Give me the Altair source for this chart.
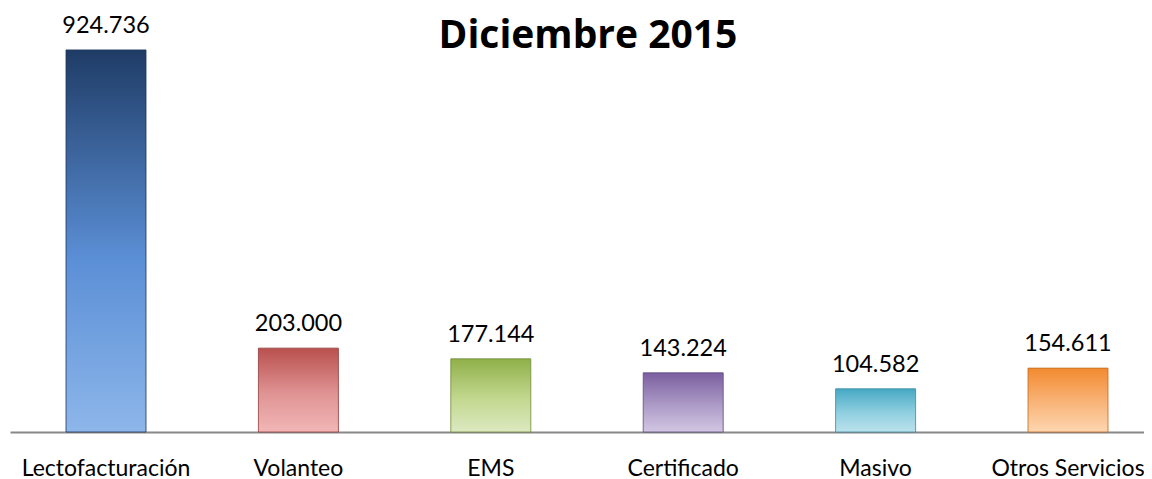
import altair as alt
import pandas as pd

categories = ["Lectofacturación", "Volanteo", "EMS", "Certificado", "Masivo", "Otros Servicios"]
values = [924.736, 203.000, 177.144, 143.224, 104.582, 154.611]
labels = ["924.736", "203.000", "177.144", "143.224", "104.582", "154.611"]

top_colors = ["#1f3c66", "#b9504e", "#8fb049", "#7a5f9e", "#46a8c4", "#f28a30"]
mid_colors = ["#5b8fd6", "#e09494", "#c3d88f", "#ad9bc8", "#8fcfe0", "#f9b57a"]
bottom_colors = ["#8db6ea", "#f2b6b6", "#dde9c2", "#d2c6e2", "#bce2ec", "#fdd6b0"]
edge_colors = ["#1c355a", "#8e3c3a", "#6f8a38", "#5e4a7a", "#3a8aa0", "#c06a20"]

df = pd.DataFrame({"cat": categories, "val": values, "lab": labels})

FONT = "Lato"
x_enc = alt.X("cat:N", sort=categories, title=None,
              scale=alt.Scale(paddingInner=0.5, paddingOuter=0.197, align=0.632),
              axis=alt.Axis(labelAngle=0, ticks=False, domainColor="#888888", domainWidth=2,
                            labelFont=FONT, labelFontSize=23, labelColor="#000000",
                            labelBaseline="alphabetic", labelPadding=43, grid=False))
y_scale = alt.Scale(domain=[0, 1002])
y_enc = alt.Y("val:Q", scale=y_scale, axis=None)

base = alt.Chart(df)
layers = []
for c, t, m, b, e in zip(categories, top_colors, mid_colors, bottom_colors, edge_colors):
    grad = alt.LinearGradient(
        gradient="linear",
        stops=[alt.GradientStop(color=t, offset=0),
               alt.GradientStop(color=m, offset=0.55),
               alt.GradientStop(color=b, offset=1)],
        x1=0, x2=0, y1=0, y2=1,
    )
    layers.append(
        base.transform_filter(alt.datum.cat == c)
        .mark_bar(size=80, color=grad, stroke=e, strokeWidth=1, strokeOpacity=0.8)
        .encode(x=x_enc, y=y_enc)
    )

text = base.mark_text(font=FONT, fontSize=23.5, color="#000000", baseline="alphabetic", dy=-17).encode(
    x=x_enc, y=y_enc, text="lab:N"
)

title = alt.Chart(pd.DataFrame({"t": ["Diciembre 2015"]})).mark_text(
    font="Open Sans", fontSize=39, fontWeight="bold", color="#000000", baseline="alphabetic", align="center"
).encode(x=alt.value(578), y=alt.value(30), text="t:N")

chart = alt.layer(*layers, text, title).properties(
    width=1134, height=414,
    padding={"left": 2, "top": 10, "right": 0, "bottom": 47},
    autosize=alt.AutoSizeParams(type="none"),
).configure_view(stroke=None)

chart.save("out.html", embed_options={"renderer": "svg", "actions": False})
